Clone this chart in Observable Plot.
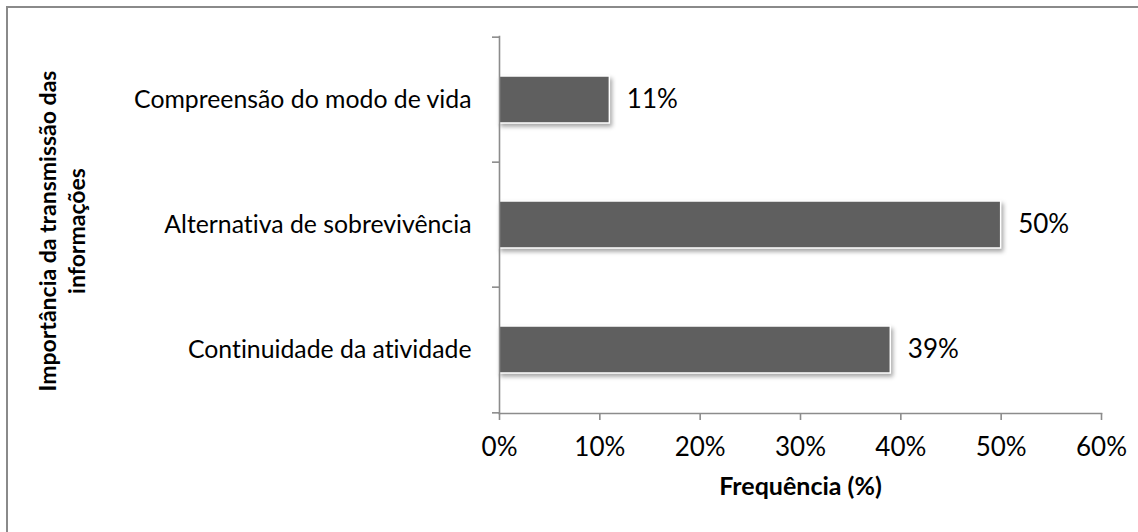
<!DOCTYPE html>
<html>
<head>
<meta charset="utf-8">
<script src="https://cdn.jsdelivr.net/npm/d3@7"></script>
<script src="https://cdn.jsdelivr.net/npm/@observablehq/plot@0.6"></script>
<style>
  html, body { margin: 0; padding: 0; background: #fff; }
  #wrap { position: relative; width: 1138px; height: 532px; overflow: hidden; }
  #border { position: absolute; left: 6px; top: 6px; right: -10px; bottom: -10px;
            border-top: 2px solid #8a8a8a; border-left: 2px solid #8a8a8a; pointer-events: none; }
  svg { display: block; font-variant-ligatures: none; }
  svg text { font-variant-ligatures: none; }
</style>
</head>
<body>
<div id="wrap"><div id="border"></div></div>
<script>
const categories = ["Compreensão do modo de vida", "Alternativa de sobrevivência", "Continuidade da atividade"];
const values = [11, 50, 39];
const xTicks = [0, 10, 20, 30, 40, 50, 60];
const xTitle = "Frequência (%)";
const yTitle = "Importância da transmissão das\ninformações";

const data = categories.map((c, i) => ({category: c, value: values[i]}));

const W = 1138, H = 532;
const mT = 36, mB = 119, mL = 499, mR = 37;
const band = (H - mT - mB) / categories.length;
const FONT = "Lato";
const axisColor = "#8c8c8c";

const chart = Plot.plot({
  width: W,
  height: H,
  marginTop: mT,
  marginBottom: mB,
  marginLeft: mL,
  marginRight: mR,
  style: {fontFamily: FONT, background: "transparent", color: "#000"},
  x: {domain: [0, 60], ticks: xTicks, tickFormat: d => d + "%"},
  y: {domain: categories, padding: 0},
  marks: [
    Plot.barX(data, {
      y: "category", x: "value",
      fill: "#5f5f5f", stroke: "#ffffff", strokeWidth: 1.5,
      insetTop: 39, insetBottom: 39
    }),
    Plot.frame({anchor: "left", stroke: axisColor, strokeWidth: 1.6}),
    Plot.frame({anchor: "bottom", stroke: axisColor, strokeWidth: 1.6}),
    // category boundary ticks on the y axis
    Plot.ruleY(categories, {y: d => d, x1: 0, x2: 0, insetLeft: -7, insetRight: 0,
      dy: -band / 2, stroke: axisColor, strokeWidth: 1.6}),
    Plot.ruleY(categories.slice(-1), {y: d => d, x1: 0, x2: 0, insetLeft: -7, insetRight: 0,
      dy: band / 2, stroke: axisColor, strokeWidth: 1.6}),
    Plot.axisX({ticks: xTicks, tickFormat: d => d + "%", tickSize: 7, tickPadding: 17,
      stroke: axisColor, strokeWidth: 1.6, fontSize: 26, fill: "#000", label: null}),
    Plot.axisY({tickSize: 0, tickPadding: 28, fontSize: 24.8, fill: "#000", label: null}),
    Plot.text(data, {
      y: "category", x: "value", text: d => d.value + "%",
      textAnchor: "start", dx: 17, fontSize: 26, fill: "#000"
    }),
    Plot.text([xTitle], {
      frameAnchor: "bottom", text: d => d, lineAnchor: "bottom", dy: 81,
      fontSize: 25, fontWeight: "bold", fill: "#000"
    }),
    Plot.text([yTitle], {
      frameAnchor: "left", textAnchor: "middle", text: d => d, rotate: -90, dx: -438, dy: 6,
      lineHeight: 1.26, fontSize: 23, fontWeight: "bold", fill: "#000"
    })
  ]
});

d3.select(chart).selectAll("g[aria-label='bar']")
  .style("filter", "drop-shadow(2px 3px 2px rgba(0,0,0,0.35))");

document.getElementById("wrap").prepend(chart);
</script>
</body>
</html>
